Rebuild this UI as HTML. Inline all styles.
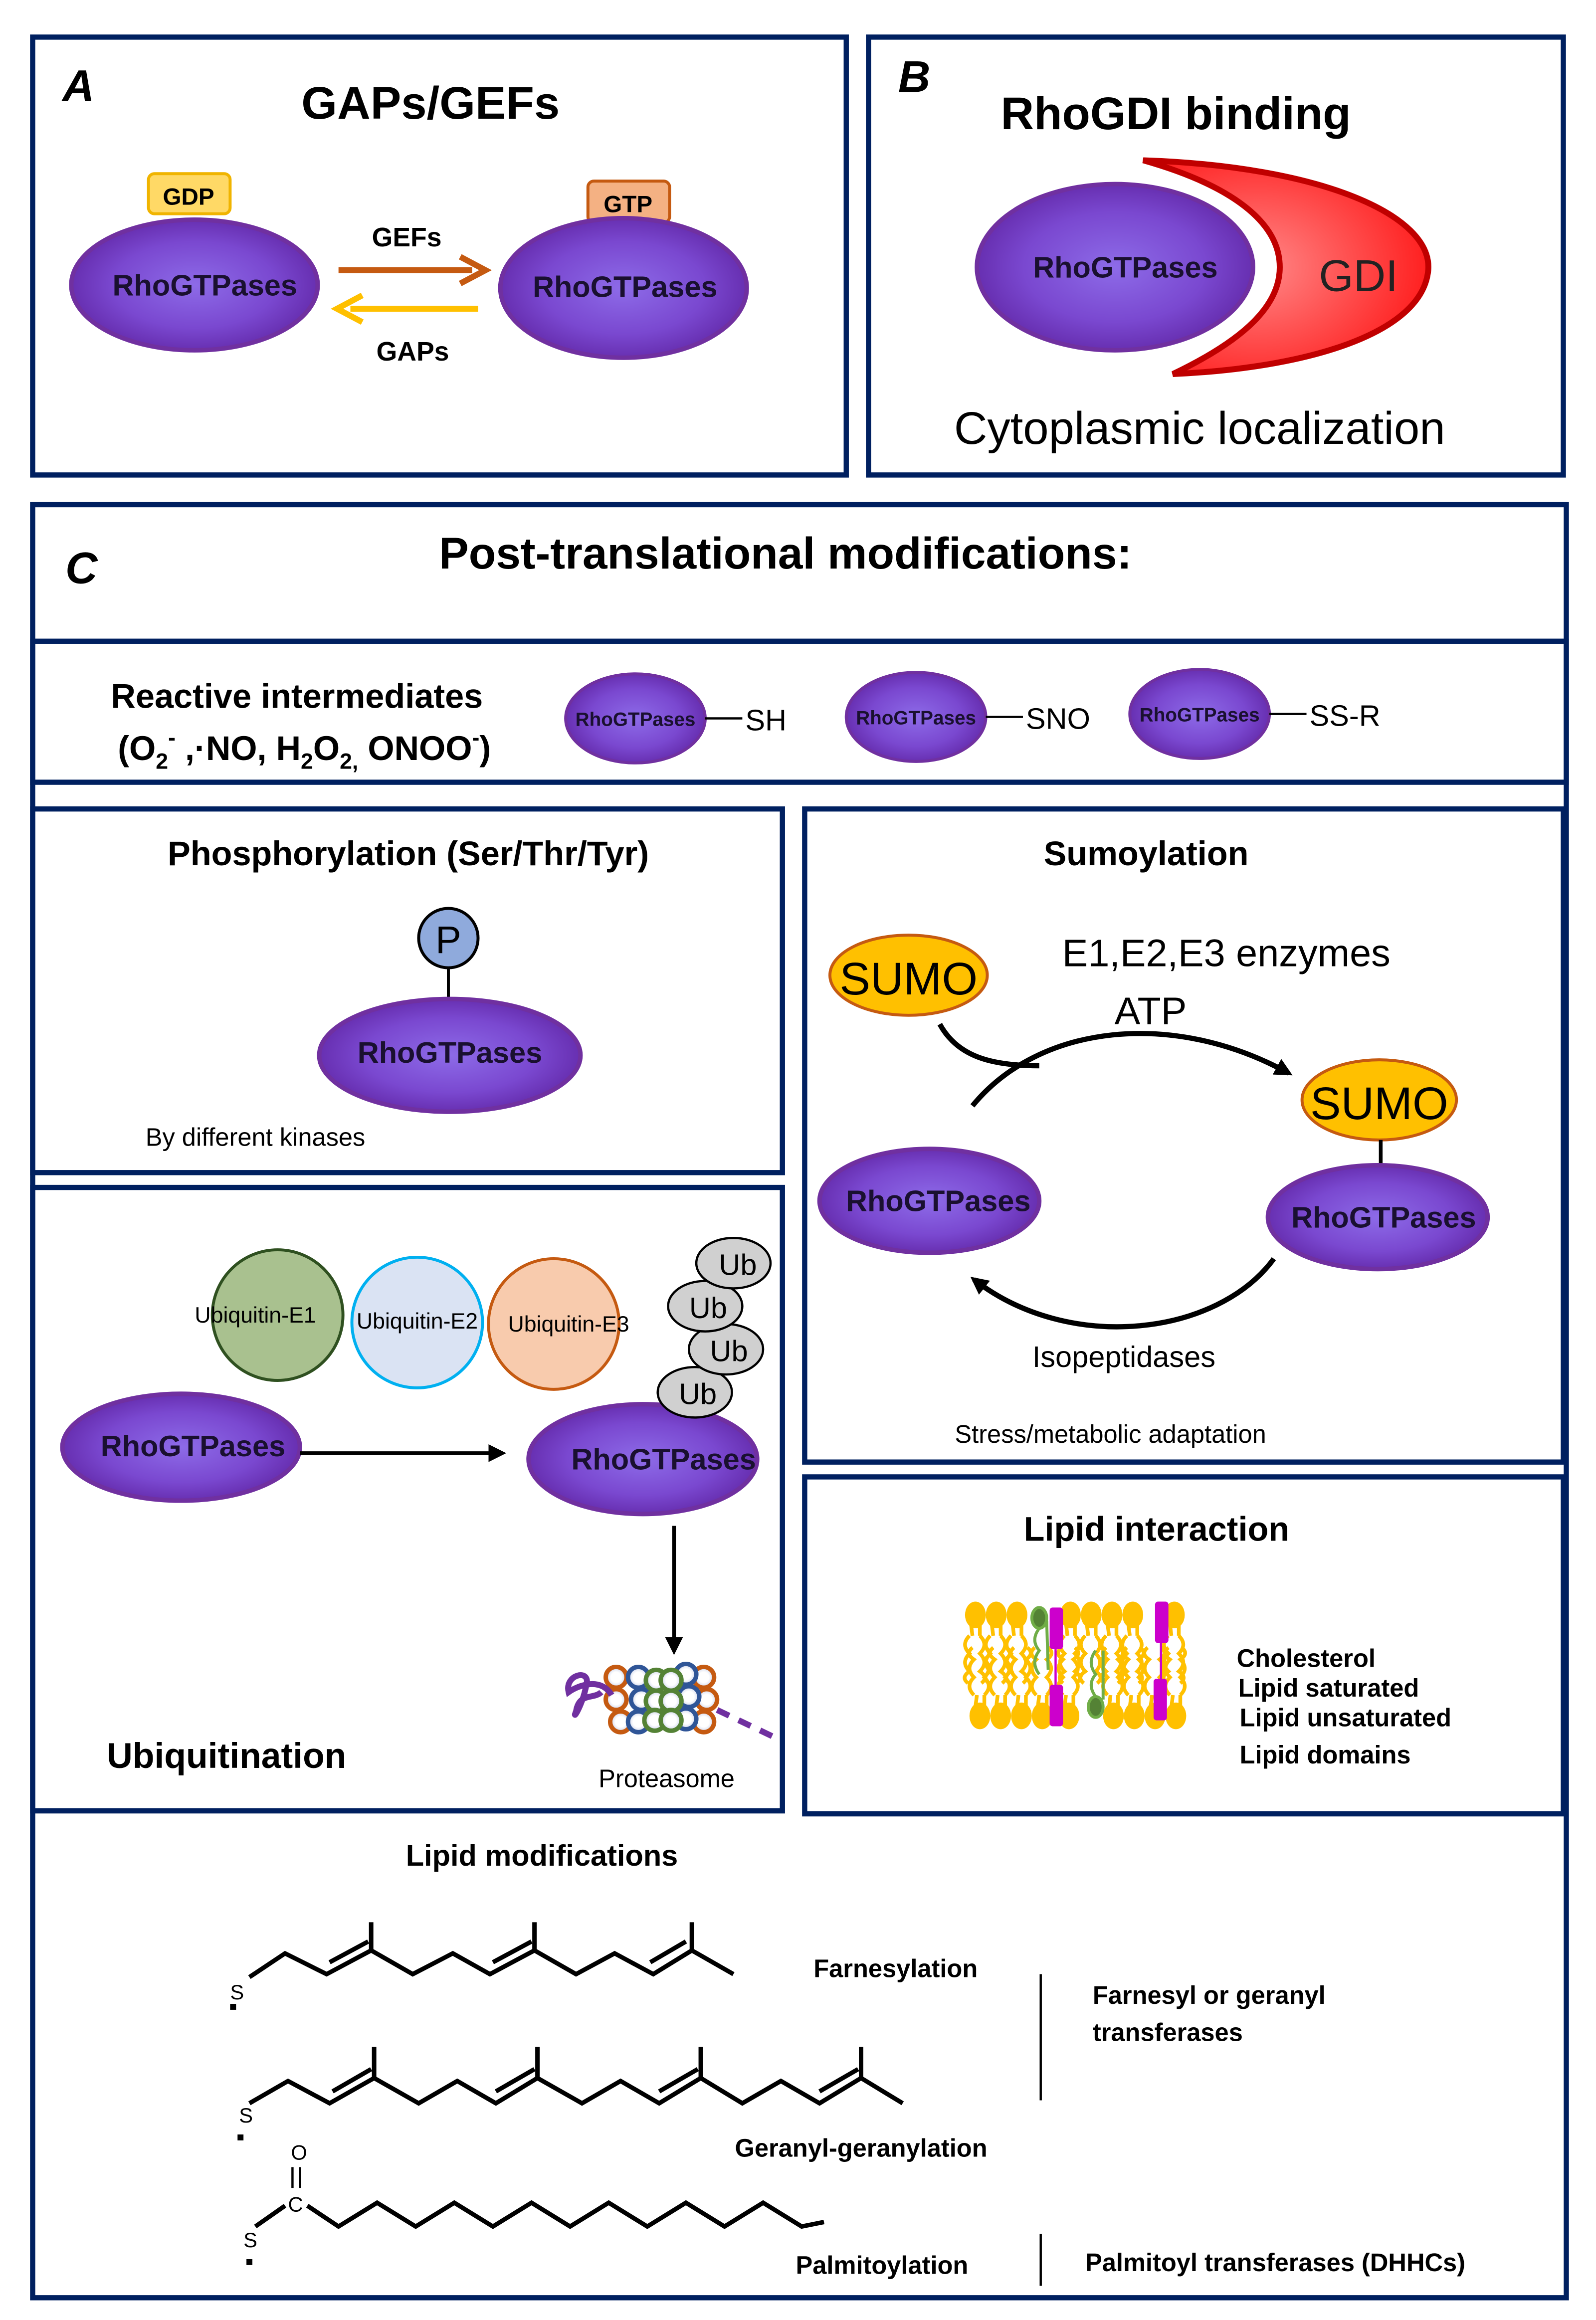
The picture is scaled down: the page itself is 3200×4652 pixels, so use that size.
<!DOCTYPE html>
<html><head><meta charset="utf-8"><style>
html,body{margin:0;padding:0;background:#fff}
svg{display:block}
text{font-family:"Liberation Sans","DejaVu Sans",sans-serif}
</style></head><body>
<svg width="3200" height="4652" viewBox="0 0 1075 1563" preserveAspectRatio="none" xmlns="http://www.w3.org/2000/svg">
<defs>
<radialGradient id="pg" cx="50%" cy="50%" r="55%">
<stop offset="0" stop-color="#8d6be8"/><stop offset="0.6" stop-color="#7a48d0"/><stop offset="1" stop-color="#6228a8"/></radialGradient>
<radialGradient id="rg" cx="40%" cy="50%" r="60%"><stop offset="0" stop-color="#ff8888"/><stop offset="1" stop-color="#ff2020"/></radialGradient>
<radialGradient id="wb" cx="50%" cy="50%" r="50%"><stop offset="0.5" stop-color="#fff"/><stop offset="1" stop-color="#c8d0ea"/></radialGradient>
<marker id="ah2" markerWidth="12" markerHeight="12" refX="9" refY="6" orient="auto" markerUnits="userSpaceOnUse"><path d="M0,0 L12,6 L0,12z" fill="#000"/></marker>
<g id="hu">
<ellipse cx="0" cy="0" rx="7" ry="9" fill="#ffc000"/>
<path d="M-3,6 L-2,14 M3,6 L3,14" stroke="#ffc000" stroke-width="2.5" fill="none"/>
<path d="M-4,14 Q-10,20 -4,26 Q-10,32 -4,38 Q-10,42 -5,46 M3,14 Q9,20 3,26 Q9,32 3,38 Q9,42 4,46" stroke="#ffc000" stroke-width="2.5" fill="none"/>
</g>
</defs>
<g fill="none" stroke="#002060" stroke-width="3.5">
<rect x="22" y="25" width="548" height="295"/>
<rect x="585" y="25" width="468" height="295"/>
<rect x="22" y="340" width="1033" height="1208"/>
<rect x="22" y="432" width="1033" height="95"/>
<rect x="22" y="545" width="505" height="245"/>
<rect x="542" y="545" width="511" height="440"/>
<rect x="22" y="800" width="505" height="420"/>
<rect x="542" y="995" width="511" height="227"/>
</g>
<!-- A -->
<text x="42" y="68" font-size="30" font-weight="bold" font-style="italic">A</text>
<text x="290" y="80" font-size="31" font-weight="bold" text-anchor="middle">GAPs/GEFs</text>
<rect x="100" y="117" width="55" height="27" rx="4" fill="#ffd966" stroke="#f0b400" stroke-width="2"/>
<text x="127" y="138" font-size="16" font-weight="bold" text-anchor="middle">GDP</text>
<rect x="396" y="122" width="55" height="28" rx="4" fill="#f4b183" stroke="#c55a11" stroke-width="2"/>
<text x="423" y="143" font-size="16" font-weight="bold" text-anchor="middle">GTP</text>
<ellipse cx="131" cy="192" rx="83" ry="44" fill="url(#pg)" stroke="#7030a0" stroke-width="3"/>
<text x="138" y="199" font-size="20" font-weight="bold" text-anchor="middle" fill="#1a1030">RhoGTPases</text>
<ellipse cx="420" cy="194" rx="83" ry="47" fill="url(#pg)" stroke="#7030a0" stroke-width="3"/>
<text x="421" y="200" font-size="20" font-weight="bold" text-anchor="middle" fill="#1a1030">RhoGTPases</text>
<text x="274" y="166" font-size="18" font-weight="bold" text-anchor="middle">GEFs</text>
<line x1="228" y1="182" x2="318" y2="182" stroke="#c55a11" stroke-width="4"/>
<path d="M310,173 L327,182 L310,191" fill="none" stroke="#c55a11" stroke-width="4"/>
<line x1="236" y1="208" x2="322" y2="208" stroke="#ffc000" stroke-width="4"/>
<path d="M244,199 L227,208 L244,217" fill="none" stroke="#ffc000" stroke-width="4"/>
<text x="278" y="243" font-size="18" font-weight="bold" text-anchor="middle">GAPs</text>
<!-- B -->
<text x="605" y="62" font-size="30" font-weight="bold" font-style="italic">B</text>
<text x="792" y="87" font-size="31" font-weight="bold" text-anchor="middle">RhoGDI binding</text>
<path d="M770,108 C890,112 965,145 962,182 C958,225 880,248 790,252 C840,228 862,205 862,180 C862,150 830,125 770,108z" fill="url(#rg)" stroke="#c00000" stroke-width="4"/>
<text x="915" y="196" font-size="30" text-anchor="middle" fill="#222">GDI</text>
<ellipse cx="751" cy="180" rx="93" ry="56" fill="url(#pg)" stroke="#7030a0" stroke-width="3"/>
<text x="758" y="187" font-size="20" font-weight="bold" text-anchor="middle" fill="#1a1030">RhoGTPases</text>
<text x="808" y="299" font-size="31" text-anchor="middle">Cytoplasmic localization</text>
<!-- C -->
<text x="44" y="393" font-size="30" font-weight="bold" font-style="italic">C</text>
<text x="529" y="383" font-size="30" font-weight="bold" text-anchor="middle">Post-translational modifications:</text>
<text x="200" y="477" font-size="23" font-weight="bold" text-anchor="middle">Reactive intermediates</text>
<text x="205" y="512" font-size="23" font-weight="bold" text-anchor="middle">(O<tspan font-size="15" dy="6">2</tspan><tspan font-size="15" dy="-16">-</tspan><tspan dy="10"> ,·NO, H</tspan><tspan font-size="15" dy="6">2</tspan><tspan dy="-6">O</tspan><tspan font-size="15" dy="6">2,</tspan><tspan dy="-6"> ONOO</tspan><tspan font-size="15" dy="-10">-</tspan><tspan dy="10">)</tspan></text>
<ellipse cx="428" cy="484" rx="47" ry="30" fill="url(#pg)" stroke="#7030a0" stroke-width="2"/>
<text x="428" y="489" font-size="13" font-weight="bold" text-anchor="middle" fill="#1a1030">RhoGTPases</text>
<line x1="475" y1="484" x2="500" y2="484" stroke="#000" stroke-width="1.5"/>
<text x="502" y="492" font-size="20">SH</text>
<ellipse cx="617" cy="483" rx="47" ry="30" fill="url(#pg)" stroke="#7030a0" stroke-width="2"/>
<text x="617" y="488" font-size="13" font-weight="bold" text-anchor="middle" fill="#1a1030">RhoGTPases</text>
<line x1="664" y1="483" x2="689" y2="483" stroke="#000" stroke-width="1.5"/>
<text x="691" y="491" font-size="20">SNO</text>
<ellipse cx="808" cy="481" rx="47" ry="30" fill="url(#pg)" stroke="#7030a0" stroke-width="2"/>
<text x="808" y="486" font-size="13" font-weight="bold" text-anchor="middle" fill="#1a1030">RhoGTPases</text>
<line x1="855" y1="481" x2="880" y2="481" stroke="#000" stroke-width="1.5"/>
<text x="882" y="489" font-size="20">SS-R</text>
<!-- Phosphorylation -->
<text x="275" y="583" font-size="23" font-weight="bold" text-anchor="middle">Phosphorylation (Ser/Thr/Tyr)</text>
<line x1="302" y1="650" x2="302" y2="678" stroke="#000" stroke-width="2"/>
<circle cx="302" cy="632" r="20" fill="#8faadc" stroke="#000" stroke-width="2"/>
<text x="302" y="642" font-size="26" text-anchor="middle">P</text>
<ellipse cx="303" cy="711" rx="88" ry="38" fill="url(#pg)" stroke="#7030a0" stroke-width="3"/>
<text x="303" y="716" font-size="20" font-weight="bold" text-anchor="middle" fill="#1a1030">RhoGTPases</text>
<text x="98" y="772" font-size="17">By different kinases</text>
<!-- Sumoylation -->
<text x="772" y="583" font-size="23" font-weight="bold" text-anchor="middle">Sumoylation</text>
<ellipse cx="612" cy="657" rx="53" ry="27" fill="#ffc000" stroke="#c55a11" stroke-width="2"/>
<text x="612" y="670" font-size="31" text-anchor="middle">SUMO</text>
<text x="826" y="651" font-size="26" text-anchor="middle">E1,E2,E3 enzymes</text>
<text x="775" y="690" font-size="26" text-anchor="middle">ATP</text>
<path d="M655,745 C700,690 790,680 868,723" fill="none" stroke="#000" stroke-width="3.5" marker-end="url(#ah2)"/>
<path d="M633,690 C645,712 668,718 700,718" fill="none" stroke="#000" stroke-width="3.5"/>
<ellipse cx="929" cy="741" rx="52" ry="27" fill="#ffc000" stroke="#c55a11" stroke-width="2"/>
<text x="929" y="754" font-size="31" text-anchor="middle">SUMO</text>
<line x1="930" y1="768" x2="930" y2="790" stroke="#000" stroke-width="2.5"/>
<ellipse cx="626" cy="809" rx="74" ry="35" fill="url(#pg)" stroke="#7030a0" stroke-width="3"/>
<text x="632" y="816" font-size="20" font-weight="bold" text-anchor="middle" fill="#1a1030">RhoGTPases</text>
<ellipse cx="928" cy="820" rx="74" ry="35" fill="url(#pg)" stroke="#7030a0" stroke-width="3"/>
<text x="932" y="827" font-size="20" font-weight="bold" text-anchor="middle" fill="#1a1030">RhoGTPases</text>
<path d="M858,848 C820,900 720,912 656,862" fill="none" stroke="#000" stroke-width="3.5" marker-end="url(#ah2)"/>
<text x="757" y="921" font-size="20" text-anchor="middle">Isopeptidases</text>
<text x="748" y="972" font-size="17" text-anchor="middle">Stress/metabolic adaptation</text>
<!-- Ubiquitination -->
<circle cx="187" cy="886" r="44" fill="#a9c18f" stroke="#2f5020" stroke-width="2"/>
<circle cx="281" cy="891" r="44" fill="#dae3f3" stroke="#00b0f0" stroke-width="2"/>
<circle cx="373" cy="892" r="44" fill="#f8cbad" stroke="#c55a11" stroke-width="2"/>
<text x="172" y="891" font-size="15" text-anchor="middle">Ubiquitin-E1</text>
<text x="281" y="895" font-size="15" text-anchor="middle">Ubiquitin-E2</text>
<text x="383" y="897" font-size="15" text-anchor="middle">Ubiquitin-E3</text>
<ellipse cx="122" cy="975" rx="80" ry="36" fill="url(#pg)" stroke="#7030a0" stroke-width="3"/>
<text x="130" y="981" font-size="20" font-weight="bold" text-anchor="middle" fill="#1a1030">RhoGTPases</text>
<line x1="202" y1="979" x2="338" y2="979" stroke="#000" stroke-width="2.5" marker-end="url(#ah2)"/>
<ellipse cx="433" cy="983" rx="77" ry="37" fill="url(#pg)" stroke="#7030a0" stroke-width="3"/>
<text x="447" y="990" font-size="20" font-weight="bold" text-anchor="middle" fill="#1a1030">RhoGTPases</text>
<g fill="#d0d0d0" stroke="#000" stroke-width="1.5">
<ellipse cx="468" cy="938" rx="25" ry="17"/>
<ellipse cx="489" cy="909" rx="25" ry="17"/>
<ellipse cx="475" cy="880" rx="25" ry="17"/>
<ellipse cx="494" cy="851" rx="25" ry="17"/>
</g>
<g font-size="20" text-anchor="middle"><text x="470" y="946">Ub</text><text x="491" y="917">Ub</text><text x="477" y="888">Ub</text><text x="497" y="859">Ub</text></g>
<line x1="454" y1="1028" x2="454" y2="1112" stroke="#000" stroke-width="2.5" marker-end="url(#ah2)"/>
<g stroke-width="3">
<g fill="url(#wb)" stroke="#c55a11"><circle cx="415" cy="1130" r="7"/><circle cx="415" cy="1145" r="7"/><circle cx="418" cy="1160" r="7"/><circle cx="474" cy="1130" r="7"/><circle cx="476" cy="1145" r="7"/><circle cx="474" cy="1160" r="7"/></g>
<g fill="url(#wb)" stroke="#2f5597"><circle cx="430" cy="1130" r="7"/><circle cx="432" cy="1145" r="7"/><circle cx="430" cy="1160" r="7"/><circle cx="462" cy="1128" r="7"/><circle cx="464" cy="1143" r="7"/><circle cx="462" cy="1158" r="7"/></g>
<g fill="url(#wb)" stroke="#548235"><circle cx="442" cy="1132" r="7"/><circle cx="452" cy="1132" r="7"/><circle cx="442" cy="1146" r="7"/><circle cx="452" cy="1146" r="7"/><circle cx="441" cy="1159" r="7"/><circle cx="452" cy="1159" r="7"/></g>
</g>
<path d="M412,1142 C405,1130 390,1135 383,1140 C380,1128 398,1124 395,1135 C392,1150 385,1160 388,1153 C390,1140 400,1145 405,1140" fill="none" stroke="#7030a0" stroke-width="4"/>
<path d="M483,1152 L525,1172" stroke="#7030a0" stroke-width="4" stroke-dasharray="9,7" fill="none"/>
<text x="449" y="1204" font-size="17" text-anchor="middle">Proteasome</text>
<text x="72" y="1191" font-size="24" font-weight="bold">Ubiquitination</text>
<!-- Lipid interaction -->
<text x="779" y="1038" font-size="23" font-weight="bold" text-anchor="middle">Lipid interaction</text>
<g transform="translate(657,1088)"><use href="#hu"/><use href="#hu" x="14"/><use href="#hu" x="28"/><use href="#hu" x="64"/><use href="#hu" x="78"/><use href="#hu" x="92"/><use href="#hu" x="106"/><use href="#hu" x="134"/></g>
<g transform="translate(660,1156) scale(1,-1)"><use href="#hu"/><use href="#hu" x="14"/><use href="#hu" x="28"/><use href="#hu" x="42"/><use href="#hu" x="60"/><use href="#hu" x="90"/><use href="#hu" x="104"/><use href="#hu" x="118"/><use href="#hu" x="132"/></g>
<ellipse cx="700" cy="1090" rx="5" ry="7" fill="#548235" stroke="#70ad47" stroke-width="2"/>
<path d="M700,1097 Q694,1105 700,1112 Q694,1120 700,1128 M705,1092 L706,1125" stroke="#70ad47" stroke-width="2" fill="none"/>
<ellipse cx="738" cy="1150" rx="5" ry="7" fill="#548235" stroke="#70ad47" stroke-width="2"/>
<path d="M738,1143 Q732,1135 738,1128 Q732,1120 738,1112 M743,1145 L743,1112" stroke="#70ad47" stroke-width="2" fill="none"/>
<g fill="#cc00cc"><rect x="707" y="1083" width="9" height="28" rx="2"/><rect x="707" y="1135" width="9" height="28" rx="2"/><rect x="778" y="1079" width="9" height="28" rx="2"/><rect x="777" y="1131" width="9" height="28" rx="2"/></g>
<line x1="711" y1="1111" x2="711" y2="1135" stroke="#cc00cc" stroke-width="1.5"/>
<line x1="782" y1="1107" x2="782" y2="1131" stroke="#cc00cc" stroke-width="1.5"/>
<g font-size="17" font-weight="bold"><text x="833" y="1123">Cholesterol</text><text x="834" y="1143">Lipid saturated</text><text x="835" y="1163">Lipid unsaturated</text><text x="835" y="1188">Lipid domains</text></g>
<!-- Lipid modifications -->
<text x="365" y="1257" font-size="20" font-weight="bold" text-anchor="middle">Lipid modifications</text>
<g fill="none" stroke="#000" stroke-width="3">
<polyline points="168,1332 192,1316 220,1330 250,1314 278,1330 305,1316 330,1330 360,1314 388,1330 414,1316 440,1330 466,1314 494,1330"/>
<line x1="250" y1="1314" x2="250" y2="1295"/><line x1="360" y1="1314" x2="360" y2="1295"/><line x1="466" y1="1314" x2="466" y2="1295"/>
<line x1="222" y1="1322" x2="248" y2="1308"/><line x1="332" y1="1322" x2="358" y2="1308"/><line x1="438" y1="1322" x2="462" y2="1308"/>
<polyline points="168,1417 194,1402 222,1417 252,1400 282,1417 308,1402 334,1417 362,1400 392,1417 418,1402 444,1417 472,1400 500,1417 526,1402 552,1417 580,1400 608,1417"/>
<line x1="252" y1="1400" x2="252" y2="1379"/><line x1="362" y1="1400" x2="362" y2="1379"/><line x1="472" y1="1400" x2="472" y2="1379"/><line x1="580" y1="1400" x2="580" y2="1379"/>
<line x1="224" y1="1409" x2="250" y2="1394"/><line x1="334" y1="1409" x2="360" y2="1394"/><line x1="444" y1="1409" x2="470" y2="1394"/><line x1="552" y1="1409" x2="578" y2="1394"/>
<polyline points="172,1500 192,1486"/>
<polyline points="207,1486 228,1500 254,1484 280,1500 306,1484 332,1500 358,1484 384,1500 410,1484 436,1500 462,1484 488,1500 514,1484 540,1500 555,1497"/>
</g>
<line x1="197" y1="1460" x2="197" y2="1474" stroke="#000" stroke-width="1.5"/><line x1="202" y1="1460" x2="202" y2="1474" stroke="#000" stroke-width="1.5"/>
<g font-size="14"><text x="155" y="1347">S</text><text x="161" y="1430">S</text><text x="164" y="1514">S</text><text x="196" y="1455">O</text><text x="194" y="1490">C</text></g>
<g fill="#000"><rect x="155" y="1350" width="4" height="4"/><rect x="160" y="1438" width="4" height="4"/><rect x="166" y="1522" width="4" height="4"/></g>
<g font-size="17" font-weight="bold">
<text x="548" y="1332">Farnesylation</text>
<text x="495" y="1453">Geranyl-geranylation</text>
<text x="536" y="1532">Palmitoylation</text>
<text x="736" y="1350">Farnesyl or geranyl</text>
<text x="736" y="1375">transferases</text>
<text x="731" y="1530">Palmitoyl transferases (DHHCs)</text>
</g>
<line x1="701" y1="1330" x2="701" y2="1415" stroke="#000" stroke-width="1.5"/>
<line x1="701" y1="1505" x2="701" y2="1540" stroke="#000" stroke-width="1.5"/>
</svg>
</body></html>
